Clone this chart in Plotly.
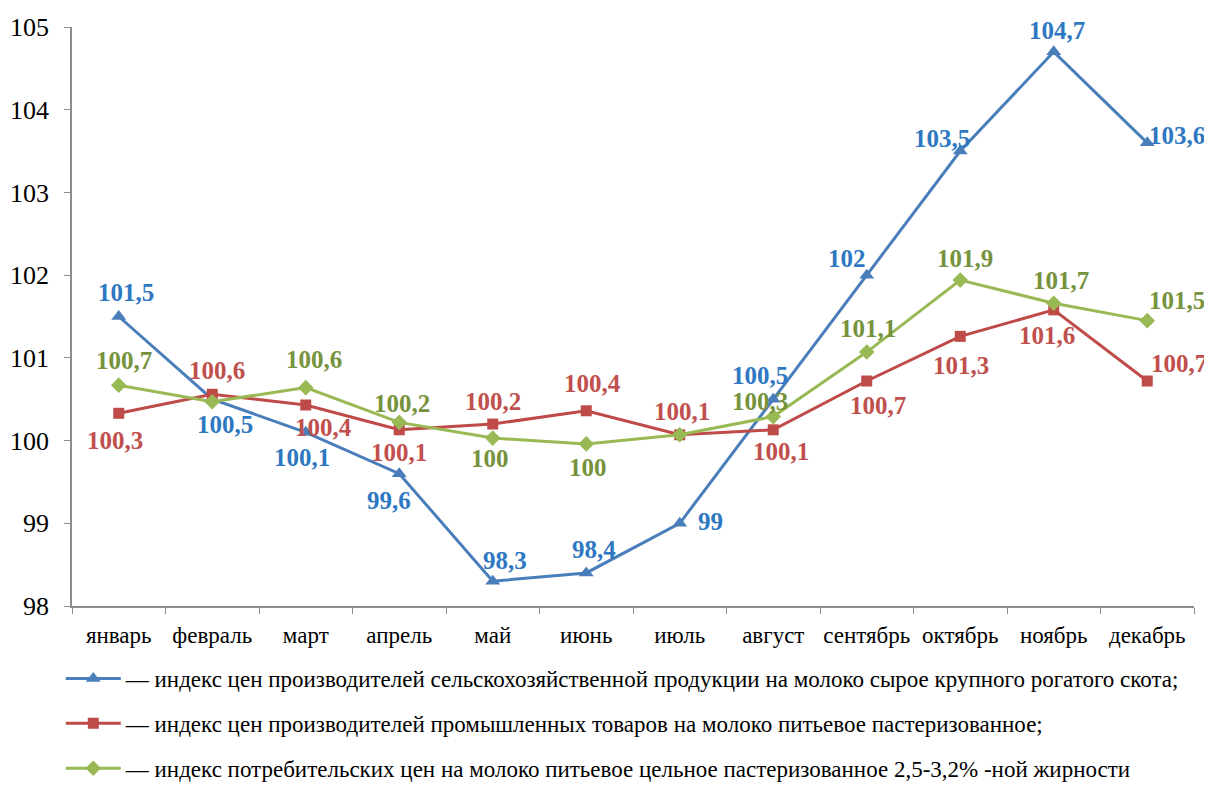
import plotly.graph_objects as go

months = ["январь", "февраль", "март", "апрель", "май", "июнь", "июль",
          "август", "сентябрь", "октябрь", "ноябрь", "декабрь"]

agri_raw_milk = [101.5, 100.5, 100.1, 99.6, 98.3, 98.4, 99.0, 100.5, 102.0, 103.5, 104.7, 103.6]
industrial_milk = [100.33, 100.56, 100.43, 100.13, 100.2, 100.36, 100.07, 100.13, 100.72, 101.26, 101.58, 100.72]
consumer_milk = [100.67, 100.47, 100.64, 100.22, 100.03, 99.96, 100.07, 100.29, 101.07, 101.94, 101.66, 101.45]

names = [
    "— индекс цен производителей сельскохозяйственной продукции на молоко сырое крупного рогатого скота;",
    "— индекс цен производителей промышленных товаров на молоко питьевое пастеризованное;",
    "— индекс потребительских цен на молоко питьевое цельное пастеризованное 2,5-3,2% -ной жирности",
]

y_ticks = [98, 99, 100, 101, 102, 103, 104, 105]

# label offsets (px) relative to each point; None = label hidden
agri_offsets = [(7, 24), (13, -25), (-4, -25), (-10, -27), (12, 21), (8, 23), (31, 2),
                (-13, 24), (-20, 17), (-18, 13), (3, 21), (30, 7)]
ind_offsets = [(-4, -27), (5, 24), (18, -22), (0, -23), (0, 23), (6, 27), (2, 23),
               (8, -22), (11, -24), (1, -29), (-7, -26), (32, 18)]
cons_offsets = [(5, 25), None, (8, 28), (3, 19), (-3, -20), (2, -24), None,
                (-13, 15), (1, 24), (5, 22), (7, 23), (30, 20)]

series = [
    (agri_raw_milk, names[0], "#4a7ebb", "#2e78c2", "triangle-up", 13, agri_offsets),
    (industrial_milk, names[1], "#be4b48", "#c0504d", "square", 11, ind_offsets),
    (consumer_milk, names[2], "#98b954", "#76923c", "diamond", 12, cons_offsets),
]

FONT = "'Liberation Serif', 'Times New Roman', Times, serif"

fig = go.Figure()
annotations = []
for i, (vals, name, lc, tc, sym, ms, offs) in enumerate(series):
    fig.add_trace(go.Scatter(
        x=months, y=vals, name=name, mode="lines+markers",
        line=dict(color=lc, width=3),
        marker=dict(symbol=sym, size=ms, color=lc),
        legendgroup=str(i),
    ))
    for m, v, off in zip(months, vals, offs):
        if off is None:
            continue
        txt = f"{v:.1f}".replace(".", ",")
        if txt.endswith(",0"):
            txt = txt[:-2]
        annotations.append(dict(
            x=m, y=v, xref="x", yref="y", text=f"<b>{txt}</b>", showarrow=False,
            xshift=off[0], yshift=off[1],
            font=dict(family=FONT, size=25, color=tc),
        ))

fig.update_layout(
    width=1204, height=778,
    margin=dict(l=64, r=18, t=19, b=180, autoexpand=False),
    paper_bgcolor="white", plot_bgcolor="white",
    font=dict(family=FONT, color="black"),
    annotations=annotations,
    showlegend=True,
    legend=dict(
        x=-0.01, y=-0.088, xanchor="left", yanchor="top",
        orientation="v", tracegroupgap=12, itemwidth=55,
        font=dict(family=FONT, size=23, color="black"),
        bgcolor="rgba(0,0,0,0)",
    ),
    xaxis=dict(
        type="category", range=[-0.5, 11.5],
        showline=True, linecolor="#8c8c8c", linewidth=1.5,
        ticks="outside", tickson="boundaries", ticklen=6, tickcolor="#8c8c8c",
        showgrid=False, zeroline=False, tickangle=0,
        tickfont=dict(family=FONT, size=23, color="black"),
        ticklabelstandoff=8,
    ),
    yaxis=dict(
        range=[98, 105], tickvals=y_ticks, ticktext=[str(t) for t in y_ticks],
        showline=True, linecolor="#8c8c8c", linewidth=1.5,
        ticks="outside", ticklen=6, tickcolor="#8c8c8c",
        showgrid=False, zeroline=False,
        tickfont=dict(family=FONT, size=26, color="black"),
        ticklabelstandoff=10,
    ),
)

fig.write_html("out.html")
